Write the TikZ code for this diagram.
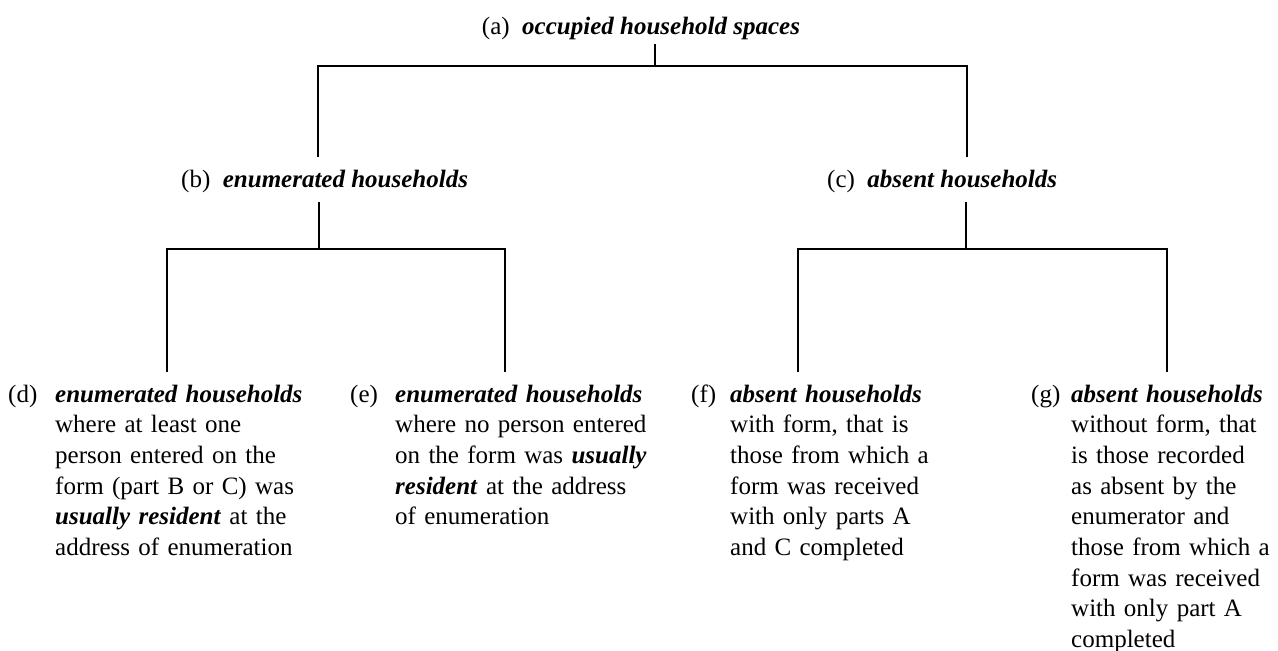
\documentclass[tikz,border=0pt]{standalone}
\usepackage{fontspec}
\setmainfont{Liberation Serif}
\newcommand{\bi}[1]{\textbf{\textit{#1}}}
\begin{document}
\begin{tikzpicture}[x=1pt,y=-1pt,
  txt/.style={font=\fontsize{25}{30.7}\selectfont, inner sep=0pt, anchor=base west},
  body/.style={txt, text width=300pt, align=left},
  tline/.style={line width=1.6pt}]
\useasboundingbox (0,0) rectangle (1278,651);
% top
\node[txt, anchor=base] (a) at (641,34) {(a)\ \ \bi{occupied household spaces}};
\node[txt] (b) at (181,187) {(b)\ \ \bi{enumerated households}};
\node[txt] (c) at (827,187) {(c)\ \ \bi{absent households}};
% leaves
\node[txt] (dl) at (8,402) {(d)};
\node[body] (d) at (55,402) {\bi{enumerated households}\\ where at least one\\ person entered on the\\ form (part B or C) was\\ \bi{usually resident} at the\\ address of enumeration};
\node[txt] (el) at (350,402) {(e)};
\node[body] (e) at (395,402) {\bi{enumerated households}\\ where no person entered\\ on the form was \bi{usually}\\ \bi{resident} at the address\\ of enumeration};
\node[txt] (fl) at (691,402) {(f)};
\node[body] (f) at (730,402) {\bi{absent households}\\ with form, that is\\ those from which a\\ form was received\\ with only parts A\\ and C completed};
\node[txt] (gl) at (1031,402) {(g)};
\node[body] (g) at (1071,402) {\bi{absent households}\\ without form, that\\ is those recorded\\ as absent by the\\ enumerator and\\ those from which a\\ form was received\\ with only part A\\ completed};
% junctions
\coordinate (aT) at (655,44);  \coordinate (aJ) at (655,66);
\coordinate (bT) at (318,66);  \coordinate (bB) at (318,157);
\coordinate (cT) at (967,66);  \coordinate (cB) at (967,157);
\coordinate (bS) at (319,202); \coordinate (bJ) at (319,249);
\coordinate (cS) at (966,202); \coordinate (cJ) at (966,249);
\coordinate (dT) at (167,249); \coordinate (dB) at (167,372);
\coordinate (eT) at (505,249); \coordinate (eB) at (505,372);
\coordinate (fT) at (798,249); \coordinate (fB) at (798,372);
\coordinate (gT) at (1167,249); \coordinate (gB) at (1167,372);
\draw[tline] (aT) -- (aJ);
\draw[tline] (bB) -- (bT) -- (cT) -- (cB);
\draw[tline] (bS) -- (bJ);
\draw[tline] (dB) -- (dT) -- (eT) -- (eB);
\draw[tline] (cS) -- (cJ);
\draw[tline] (fB) -- (fT) -- (gT) -- (gB);
\end{tikzpicture}
\end{document}
